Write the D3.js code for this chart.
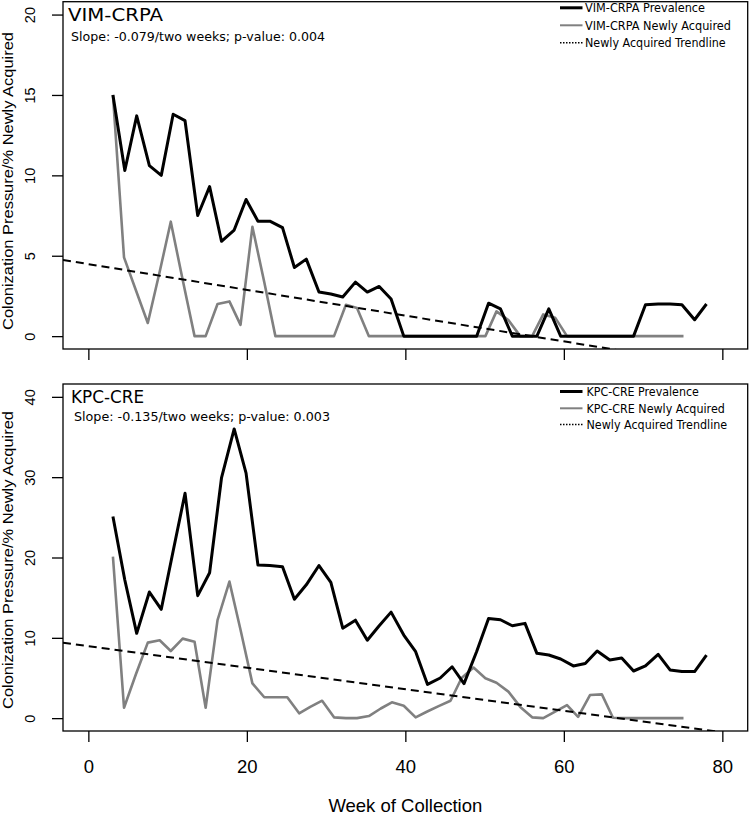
<!DOCTYPE html>
<html><head><meta charset="utf-8">
<script src="https://cdn.jsdelivr.net/npm/d3@7"></script>
<style>body{margin:0;background:#fff}svg{display:block}</style>
</head><body>
<script>
// ---- data ----
const weeksPrevalence = [3.1,4.6,6.1,7.7,9.2,10.7,12.2,13.8,15.3,16.8,18.4,19.9,21.4,22.9,24.5,26.0,27.5,29.1,30.6,32.1,33.7,35.2,36.7,38.2,39.8,41.3,42.8,44.4,45.9,47.4,49.0,50.5,52.0,53.5,55.1,56.6,58.1,59.6,61.2,62.7,64.2,65.8,67.3,68.8,70.3,71.9,73.4,74.9,76.5,78.0];
const weeksNewlyAcquired = [3.1,4.5,6.0,7.5,9.0,10.4,11.9,13.4,14.8,16.3,17.8,19.2,20.7,22.2,23.6,25.1,26.6,28.0,29.5,31.0,32.5,33.9,35.4,36.9,38.3,39.8,41.3,42.7,44.2,45.7,47.1,48.6,50.1,51.5,53.0,54.5,56.0,57.4,58.9,60.4,61.8,63.3,64.8,66.2,67.7,69.2,70.6,72.1,73.6,75.1];
const vimPrevalence = [15.0,10.3,13.7,10.6,10.0,13.8,13.4,7.5,9.3,5.9,6.6,8.5,7.15,7.15,6.75,4.27,4.79,2.74,2.62,2.43,3.36,2.74,3.09,2.31,0,0,0,0,0,0,0,2.05,1.7,0,0,0,1.7,0,0,0,0,0,0,0,1.95,2.0,2.0,1.95,1.02,2.0];
const vimNewlyAcquired = [15.0,4.9,2.85,0.82,4.0,7.12,3.5,0,0,2.0,2.16,0.7,6.8,3.35,0,0,0,0,0,0,1.95,1.75,0,0,0,0,0,0,0,0,0,0,0,1.54,1.0,0,0,1.35,1.15,0,0,0,0,0,0,0,0,0,0,0];
const kpcPrevalence = [25.1,17.2,10.56,15.7,13.55,20.8,28.0,15.25,18.1,29.9,36.0,30.5,19.07,19.0,18.85,14.8,16.6,19.0,16.9,11.2,12.2,9.7,11.5,13.2,10.35,8.27,4.2,5.0,6.4,4.3,8.3,12.4,12.25,11.5,11.8,8.07,7.86,7.36,6.5,6.8,8.36,7.24,7.5,5.87,6.5,7.95,6.0,5.8,5.8,7.86];
const kpcNewlyAcquired = [20.1,1.3,5.47,9.4,9.7,8.36,9.9,9.5,1.3,12.2,17.0,11.0,4.33,2.6,2.6,2.6,0.6,1.4,2.17,0.1,0.0,0.0,0.26,1.2,1.97,1.55,0.1,0.8,1.5,2.17,5.0,6.3,4.96,4.4,3.3,1.4,0.1,0.0,0.8,1.63,0.17,2.88,2.96,0.05,0,0,0,0,0,0];
const vimTrend = [4.48, -0.0801];   // intercept, slope per week
const kpcTrend = [8.96, -0.134];
const xTicks = [0,20,40,60,80];
const vimYTicks = [0,5,10,15,20];
const kpcYTicks = [0,10,20,30,40];
const vimLegend = ["VIM-CRPA Prevalence","VIM-CRPA Newly Acquired","Newly Acquired Trendline"];
const kpcLegend = ["KPC-CRE Prevalence","KPC-CRE Newly Acquired","Newly Acquired Trendline"];

// ---- drawing ----
const W = 750, H = 819;
const svg = d3.select("body").append("svg").attr("width", W).attr("height", H);
const left = 63, right = 747.7;
const x = d3.scaleLinear().domain([-3.2, 83.2]).range([left, right]);
const sansUI = "'DejaVu Sans', Verdana, sans-serif";
const sansAx = "'Liberation Sans', Arial, sans-serif";

const panels = [
  {id: "vim", title: "VIM-CRPA", slope: "Slope: -0.079/two weeks; p-value: 0.004",
   prev: vimPrevalence, nw: vimNewlyAcquired, trend: vimTrend, ymax: 20, yTicks: vimYTicks,
   legend: vimLegend, top: 1.7, bottom: 349, labels: false,
   titleBase: 20.5, titleW: 95, slopeBase: 40.7, slopeW: 254, titleX: 68,
   legBase: [12.3, 29.8, 47.3], legW: [120, 146, 140.7], legX: 585, ylabC: 181},
  {id: "kpc", title: "KPC-CRE", slope: "Slope: -0.135/two weeks; p-value: 0.003",
   prev: kpcPrevalence, nw: kpcNewlyAcquired, trend: kpcTrend, ymax: 40, yTicks: kpcYTicks,
   legend: kpcLegend, top: 384, bottom: 731, labels: true,
   titleBase: 402.5, titleW: 73, slopeBase: 420.7, slopeW: 256, titleX: 71,
   legBase: [396, 412.8, 429], legW: [112.3, 138.3, 140.7], legX: 586.5, ylabC: 560}
];

panels.forEach(p => {
  const ext = p.ymax * 0.04;
  const y = d3.scaleLinear().domain([-ext, p.ymax + ext]).range([p.bottom, p.top]);
  const g = svg.append("g");
  svg.append("clipPath").attr("id", "clip-" + p.id)
    .append("rect").attr("x", left).attr("y", p.top).attr("width", right - left).attr("height", p.bottom - p.top);
  const plot = g.append("g").attr("clip-path", `url(#clip-${p.id})`);
  const line = d3.line().x(d => x(d[0])).y(d => y(d[1]));

  plot.append("path").datum(d3.zip(weeksNewlyAcquired, p.nw)).attr("d", line)
    .attr("fill", "none").attr("stroke", "#808080").attr("stroke-width", 2.6).attr("stroke-linejoin", "round");
  plot.append("path").datum(d3.zip(weeksPrevalence, p.prev)).attr("d", line)
    .attr("fill", "none").attr("stroke", "#000").attr("stroke-width", 3).attr("stroke-linejoin", "round");
  const xd = x.domain();
  plot.append("line")
    .attr("x1", x(xd[0])).attr("y1", y(p.trend[0] + p.trend[1] * xd[0]))
    .attr("x2", x(xd[1])).attr("y2", y(p.trend[0] + p.trend[1] * xd[1]))
    .attr("stroke", "#000").attr("stroke-width", 2).attr("stroke-dasharray", "8,5");

  // box
  g.append("rect").attr("x", left).attr("y", p.top).attr("width", right - left).attr("height", p.bottom - p.top)
    .attr("fill", "none").attr("stroke", "#000").attr("stroke-width", 1.3);

  // y axis
  const ya = g.append("g").attr("transform", `translate(${left},0)`)
    .call(d3.axisLeft(y).tickValues(p.yTicks).tickSize(11).tickSizeOuter(0));
  ya.select(".domain").remove();
  ya.selectAll(".tick line").attr("stroke", "#000").attr("stroke-width", 1.3);
  ya.selectAll(".tick text").attr("transform", "rotate(-90)").attr("x", 0).attr("y", -28).attr("dy", null)
    .attr("text-anchor", "middle").attr("fill", "#000").style("font-family", sansAx).style("font-size", "14.5px");

  // x axis
  const xa = g.append("g").attr("transform", `translate(0,${p.bottom})`)
    .call(d3.axisBottom(x).tickValues(xTicks).tickSize(11).tickSizeOuter(0).tickFormat(p.labels ? d3.format("d") : () => ""));
  xa.select(".domain").remove();
  xa.selectAll(".tick line").attr("stroke", "#000").attr("stroke-width", 1.3);
  xa.selectAll(".tick text").attr("y", 42).attr("dy", null).attr("fill", "#000")
    .style("font-family", sansAx).style("font-size", "18.5px");

  // y title
  g.append("text").attr("transform", `translate(13,${p.ylabC}) rotate(-90)`).attr("text-anchor", "middle")
    .attr("textLength", 298).attr("lengthAdjust", "spacingAndGlyphs")
    .style("font-family", sansAx).style("font-size", "15px").text("Colonization Pressure/% Newly Acquired");

  // panel title & slope
  g.append("text").attr("x", p.titleX).attr("y", p.titleBase).attr("textLength", p.titleW).attr("lengthAdjust", "spacingAndGlyphs")
    .style("font-family", sansUI).style("font-size", "18.5px").text(p.title);
  g.append("text").attr("x", p.titleX + 3).attr("y", p.slopeBase).attr("textLength", p.slopeW).attr("lengthAdjust", "spacingAndGlyphs")
    .style("font-family", sansUI).style("font-size", "13px").text(p.slope);

  // legend
  const styles = [
    {stroke: "#000", w: 3, dash: null},
    {stroke: "#808080", w: 2, dash: null},
    {stroke: "#000", w: 1.5, dash: "1.5,1.5"}
  ];
  p.legend.forEach((t, i) => {
    const cy = p.legBase[i] - 4.5;
    g.append("line").attr("x1", 560).attr("x2", 582.5).attr("y1", cy).attr("y2", cy)
      .attr("stroke", styles[i].stroke).attr("stroke-width", styles[i].w).attr("stroke-dasharray", styles[i].dash);
    g.append("text").attr("x", p.legX).attr("y", p.legBase[i]).attr("textLength", p.legW[i]).attr("lengthAdjust", "spacingAndGlyphs")
      .style("font-family", sansUI).style("font-size", "12.5px").text(t);
  });
});

svg.append("text").attr("x", x(40)).attr("y", 812).attr("text-anchor", "middle")
  .style("font-family", sansAx).style("font-size", "18.5px").text("Week of Collection");
</script>
</body></html>
